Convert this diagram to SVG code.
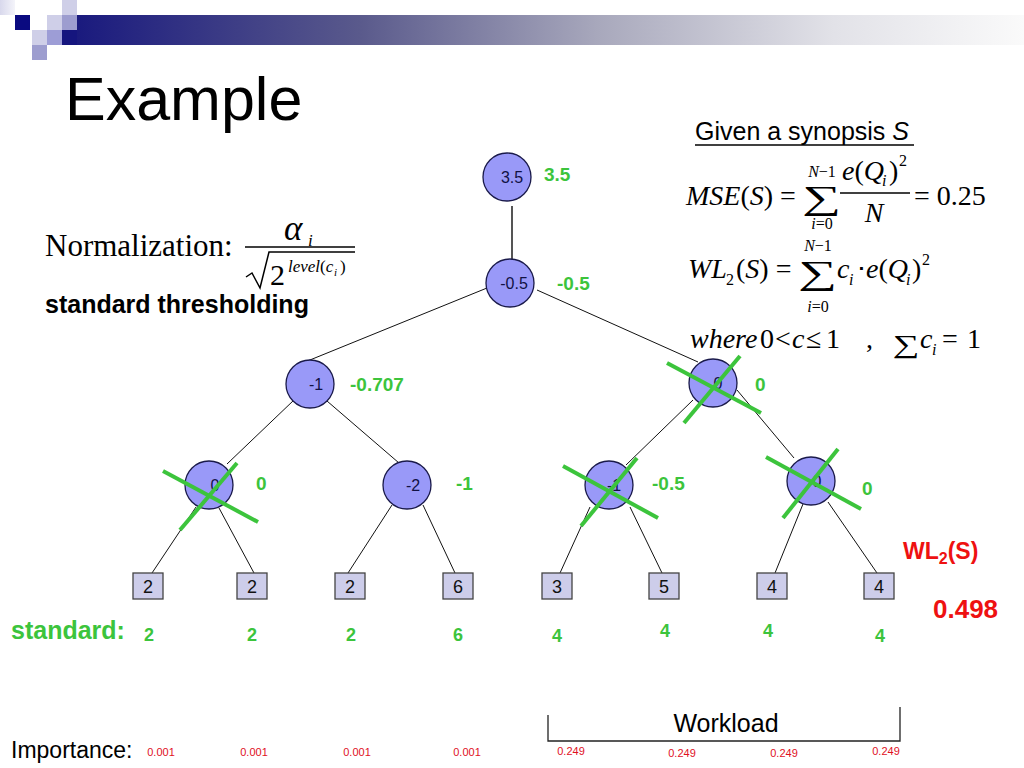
<svg xmlns="http://www.w3.org/2000/svg" width="1024" height="768" viewBox="0 0 1024 768">
<defs>
<linearGradient id="bar" x1="0" y1="0" x2="1" y2="0">
<stop offset="0" stop-color="#1a1a7e"/>
<stop offset="0.3" stop-color="#5a5a8c"/>
<stop offset="0.55" stop-color="#a8a8bc"/>
<stop offset="0.8" stop-color="#e2e2e8"/>
<stop offset="1" stop-color="#fafafa"/>
</linearGradient>
<linearGradient id="sq0" x1="0" y1="0" x2="1" y2="0">
<stop offset="0" stop-color="#d8d8ec"/>
<stop offset="1" stop-color="#f4f4fa"/>
</linearGradient>
</defs>
<style>
.sans{font-family:"Liberation Sans",Arial,sans-serif}
.serif{font-family:"Liberation Serif","Times New Roman",serif}
.it{font-style:italic}
.node circle{fill:#9999f8;stroke:#1a1a4a;stroke-width:1.3}
.node text{font-family:"Liberation Sans",Arial,sans-serif;font-size:16px;fill:#111144;text-anchor:middle}
.leaf rect{fill:#cdcdea;stroke:#444;stroke-width:1.3}
.leaf text{font-family:"Liberation Sans",Arial,sans-serif;font-size:18px;fill:#111;text-anchor:middle}
.gv{font-family:"Liberation Sans",Arial,sans-serif;font-weight:bold;font-size:19px;fill:#3cc43c}
.sv{font-family:"Liberation Sans",Arial,sans-serif;font-weight:bold;font-size:18px;fill:#3cc43c;text-anchor:middle}
.cross line{stroke:#3cc43c;stroke-width:4}
.edges line{stroke:#111;stroke-width:1}
.imp{font-family:"Liberation Sans",Arial,sans-serif;font-size:11px;fill:#e0101e;text-anchor:middle}
.m{font-family:"Liberation Serif","Times New Roman",serif;font-size:28px;fill:#000}
.sm{font-family:"Liberation Serif","Times New Roman",serif;font-size:16px;fill:#000}
</style>
<rect width="1024" height="768" fill="#fff"/>
<g id="header">
<rect x="77" y="15" width="947" height="30" fill="url(#bar)"/>
<rect x="0" y="0" width="15" height="15" fill="url(#sq0)"/>
<rect x="15" y="15" width="15" height="15" fill="#0a0a80"/>
<rect x="62" y="0" width="15" height="15" fill="#cfcfe8"/>
<rect x="47" y="15" width="15" height="15" fill="#cfcfe8"/>
<rect x="62" y="15" width="15" height="15" fill="#9d9dcf"/>
<rect x="32" y="30" width="15" height="15" fill="#cfcfe8"/>
<rect x="47" y="30" width="15" height="15" fill="#9d9dd6"/>
<rect x="62" y="30" width="15" height="15" fill="#15157e"/>
<rect x="32" y="45" width="15" height="15" fill="#9d9dcf"/>
</g>
<text x="65" y="120" class="sans" font-size="61">Example</text>

<g id="normalization">
<text x="45" y="256" class="serif" font-size="31">Normalization:</text>
<text x="284" y="240" class="serif it" font-size="35">α</text>
<text x="308" y="246" class="serif it" font-size="17">i</text>
<line x1="245" y1="247" x2="355" y2="247" stroke="#000" stroke-width="1.5"/>
<polyline points="246,277 252,273 260,288 269,252 355,252" fill="none" stroke="#000" stroke-width="1.5"/>
<text x="270" y="285" class="serif" font-size="30">2</text>
<text x="288" y="272" class="serif" font-size="17"><tspan class="it">level</tspan>(<tspan class="it">c</tspan></text>
<text x="334" y="276" class="serif it" font-size="11">i</text>
<text x="340" y="272" class="serif" font-size="17">)</text>
</g>
<text x="45" y="313" class="sans" font-weight="bold" font-size="25">standard thresholding</text>

<g id="formulas">
<text x="695" y="140" class="sans" font-size="25">Given a synopsis <tspan class="it">S</tspan></text>
<line x1="695" y1="145" x2="914" y2="145" stroke="#000" stroke-width="1.3"/>

<text x="686" y="205" class="m"><tspan class="it">MSE</tspan>(<tspan class="it">S</tspan>) =</text>
<text x="822" y="177" class="sm" text-anchor="middle"><tspan class="it">N</tspan>−1</text>
<text transform="translate(822,209) scale(1.3,0.8)" class="serif" font-size="42" text-anchor="middle">∑</text>
<text x="822" y="229" class="sm" text-anchor="middle"><tspan class="it">i</tspan>=0</text>
<text x="842" y="180" class="m"><tspan class="it">e</tspan>(<tspan class="it">Q</tspan></text>
<text x="882" y="186" class="sm it">i</text>
<text x="889" y="180" class="m">)</text>
<text x="899" y="166" class="sm">2</text>
<line x1="840" y1="193" x2="910" y2="193" stroke="#000" stroke-width="1.3"/>
<text x="874" y="222" class="m it" text-anchor="middle">N</text>
<text x="914" y="205" class="m">= 0.25</text>

<text x="688" y="278" class="m it">WL</text>
<text x="726" y="285" class="sm">2</text>
<text x="736" y="278" class="m">(<tspan class="it">S</tspan>) =</text>
<text x="818" y="251" class="sm" text-anchor="middle"><tspan class="it">N</tspan>−1</text>
<text transform="translate(818,284) scale(1.3,0.8)" class="serif" font-size="42" text-anchor="middle">∑</text>
<text x="818" y="312" class="sm" text-anchor="middle"><tspan class="it">i</tspan>=0</text>
<text x="837" y="278" class="m it">c</text>
<text x="849" y="285" class="sm it">i</text>
<text x="857" y="278" class="m">⋅</text>
<text x="866" y="278" class="m"><tspan class="it">e</tspan>(<tspan class="it">Q</tspan></text>
<text x="906" y="285" class="sm it">i</text>
<text x="912" y="278" class="m">)</text>
<text x="922" y="265" class="sm">2</text>

<text x="690" y="348" class="m it">where</text>
<text x="760" y="348" class="m">0</text>
<text x="775" y="348" class="m">&lt;</text>
<text x="792" y="348" class="m it">c</text>
<text x="806" y="348" class="m">≤</text>
<text x="826" y="348" class="m">1</text>
<text x="866" y="348" class="m">,</text>
<text transform="translate(906,353) scale(1.25,0.85)" class="serif" font-size="30" text-anchor="middle">∑</text>
<text x="920" y="348" class="m it">c</text>
<text x="932" y="355" class="sm it">i</text>
<text x="942" y="348" class="m">=</text>
<text x="967" y="348" class="m">1</text>
</g>

<g id="connectors" class="edges">
<line x1="512" y1="206" x2="512" y2="259" style="stroke:#555;stroke-width:2"/>
<line x1="487" y1="288" x2="305" y2="362"/>
<line x1="537" y1="290" x2="698" y2="362"/>
<line x1="294" y1="400" x2="227" y2="464"/>
<line x1="327" y1="401" x2="399" y2="463"/>
<line x1="693" y1="400" x2="626" y2="465"/>
<line x1="737" y1="390" x2="794" y2="458"/>
<line x1="196" y1="507" x2="152" y2="573"/>
<line x1="219" y1="508" x2="254" y2="573"/>
<line x1="392" y1="505" x2="348" y2="573"/>
<line x1="423" y1="505" x2="455" y2="573"/>
<line x1="590" y1="507" x2="560" y2="573"/>
<line x1="630" y1="507" x2="662" y2="573"/>
<line x1="803" y1="504" x2="775" y2="573"/>
<line x1="828" y1="502" x2="877" y2="573"/>
</g>

<g id="n-root" class="node"><circle cx="507" cy="177" r="24"/><text x="512" y="183">3.5</text></g>
<g id="n-mid" class="node"><circle cx="510" cy="283" r="24"/><text x="514" y="289">-0.5</text></g>
<g id="n-l1a" class="node"><circle cx="310" cy="384" r="24"/><text x="316" y="390">-1</text></g>
<g id="n-l1b" class="node"><circle cx="713" cy="383" r="24"/><text x="718" y="389">0</text></g>
<g id="n-l2a" class="node"><circle cx="209" cy="485" r="24"/><text x="215" y="491">0</text></g>
<g id="n-l2b" class="node"><circle cx="407" cy="485" r="24"/><text x="413" y="491">-2</text></g>
<g id="n-l2c" class="node"><circle cx="609" cy="485" r="24"/><text x="614" y="491">-1</text></g>
<g id="n-l2d" class="node"><circle cx="811" cy="481" r="24"/><text x="817" y="487">0</text></g>

<g id="green-values">
<text x="544" y="181" class="gv">3.5</text>
<text x="557" y="290" class="gv">-0.5</text>
<text x="350" y="391" class="gv">-0.707</text>
<text x="755" y="391" class="gv">0</text>
<text x="256" y="490" class="gv">0</text>
<text x="456" y="490" class="gv">-1</text>
<text x="652" y="490" class="gv">-0.5</text>
<text x="862" y="495" class="gv">0</text>
</g>

<g id="crosses" class="cross">
<line x1="667" y1="363" x2="761" y2="413"/>
<line x1="740" y1="356" x2="684" y2="423"/>
<line x1="163" y1="471" x2="258" y2="522"/>
<line x1="237" y1="463" x2="180" y2="530"/>
<line x1="563" y1="466" x2="658" y2="518"/>
<line x1="637" y1="458" x2="581" y2="526"/>
<line x1="766" y1="457" x2="861" y2="509"/>
<line x1="838" y1="449" x2="783" y2="518"/>
</g>

<g id="leaf1" class="leaf"><rect x="133" y="573" width="30" height="26"/><text x="148" y="593">2</text></g>
<g id="leaf2" class="leaf"><rect x="237" y="573" width="30" height="26"/><text x="252" y="593">2</text></g>
<g id="leaf3" class="leaf"><rect x="335" y="573" width="30" height="26"/><text x="350" y="593">2</text></g>
<g id="leaf4" class="leaf"><rect x="443" y="573" width="30" height="26"/><text x="458" y="593">6</text></g>
<g id="leaf5" class="leaf"><rect x="542" y="573" width="30" height="26"/><text x="557" y="593">3</text></g>
<g id="leaf6" class="leaf"><rect x="649" y="573" width="30" height="26"/><text x="664" y="593">5</text></g>
<g id="leaf7" class="leaf"><rect x="757" y="573" width="30" height="26"/><text x="772" y="593">4</text></g>
<g id="leaf8" class="leaf"><rect x="864" y="573" width="30" height="26"/><text x="879" y="593">4</text></g>

<text x="903" y="559" class="sans" font-weight="bold" font-size="23" fill="#ee1111">WL<tspan font-size="16" dy="5">2</tspan><tspan dy="-5">(S)</tspan></text>
<text x="933" y="618" class="sans" font-weight="bold" font-size="26" fill="#ee1111">0.498</text>

<g id="standard-row">
<text x="11" y="639" class="sans" font-weight="bold" font-size="25" fill="#3cc43c">standard:</text>
<text x="149" y="641" class="sv">2</text>
<text x="252" y="641" class="sv">2</text>
<text x="351" y="641" class="sv">2</text>
<text x="458" y="641" class="sv">6</text>
<text x="557" y="642" class="sv">4</text>
<text x="665" y="637" class="sv">4</text>
<text x="768" y="637" class="sv">4</text>
<text x="880" y="642" class="sv">4</text>
</g>

<g id="workload">
<polyline points="548,715 548,741 900,741 900,707" fill="none" stroke="#222" stroke-width="1.3"/>
<text x="726" y="732" class="sans" font-size="25" text-anchor="middle">Workload</text>
</g>

<g id="importance-row">
<text x="11" y="758" class="sans" font-size="23">Importance:</text>
<text x="161" y="756" class="imp">0.001</text>
<text x="254" y="756" class="imp">0.001</text>
<text x="357" y="756" class="imp">0.001</text>
<text x="467" y="756" class="imp">0.001</text>
<text x="571" y="755" class="imp">0.249</text>
<text x="682" y="757" class="imp">0.249</text>
<text x="784" y="757" class="imp">0.249</text>
<text x="886" y="755" class="imp">0.249</text>
</g>
</svg>
